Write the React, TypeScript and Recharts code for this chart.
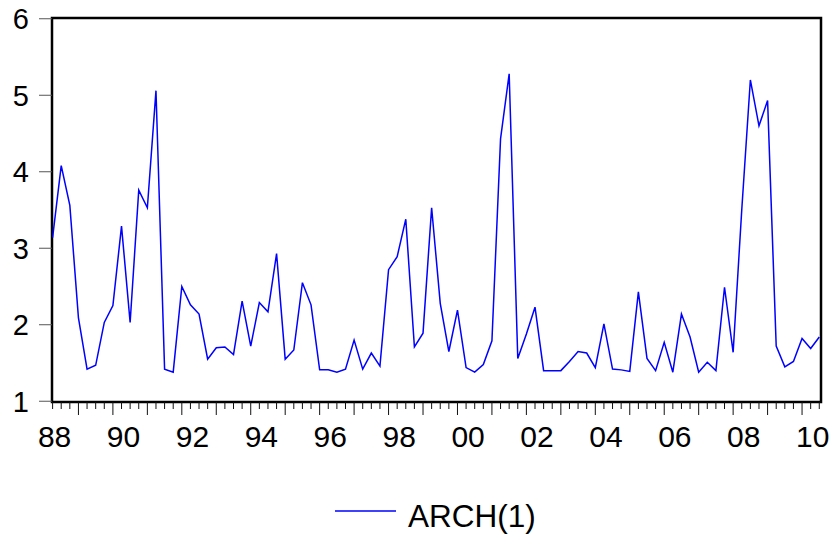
import { LineChart, Line, XAxis, YAxis, ReferenceArea } from 'recharts';

// Quarterly ARCH(1) conditional variance, 1988Q1 .. 2010Q2
const arch1 = [
  3.14, 4.08, 3.56, 2.09, 1.42, 1.47, 2.03, 2.25,
  3.29, 2.03, 3.76, 3.53, 5.06, 1.42, 1.38, 2.5,
  2.26, 2.14, 1.55, 1.7, 1.71, 1.61, 2.31, 1.72,
  2.29, 2.17, 2.93, 1.55, 1.67, 2.55, 2.26, 1.41,
  1.41, 1.38, 1.42, 1.8, 1.42, 1.63, 1.46, 2.72,
  2.89, 3.38, 1.71, 1.89, 3.53, 2.28, 1.65, 2.19,
  1.44, 1.38, 1.48, 1.79, 4.43, 5.28, 1.56, 1.88,
  2.23, 1.4, 1.4, 1.4, 1.52, 1.65, 1.63, 1.44,
  2.01, 1.42, 1.41, 1.39, 2.43, 1.56, 1.4, 1.77,
  1.38, 2.14, 1.84, 1.38, 1.51, 1.4, 2.49, 1.64,
  3.5, 5.2, 4.6, 4.93, 1.72, 1.45, 1.52, 1.82,
  1.69, 1.84,
];

// one label every second year, placed on that year's first quarter
const yearLabels = ['88', '90', '92', '94', '96', '98', '00', '02', '04', '06', '08', '10'];
const yTicks = [1, 2, 3, 4, 5, 6];

const data = arch1.map((v, i) => ({ q: i, arch: v }));
const quarterTicks = data.map((d) => d.q);

const FONT = '"Liberation Sans", Arial, sans-serif';
const X_DOMAIN: [number, number] = [-0.07, 89.2];
const Y_DOMAIN: [number, number] = [0.99, 6.01];

function QuarterTick({ x, y, payload }: { x: number; y: number; payload: { value: number } }) {
  const i = payload.value;
  const long = i % 4 === 3;
  const label = i % 8 === 0 ? yearLabels[i / 8] : null;
  return (
    <g>
      <line x1={x} x2={x} y1={y} y2={y + (long ? 13 : 7)} stroke="#111" strokeWidth={1} />
      {label && (
        <text x={x + 2} y={y + 45} textAnchor="middle" fontSize={30} fontFamily={FONT} fill="#000">
          {label}
        </text>
      )}
    </g>
  );
}

export default function App() {
  return (
    <div style={{ position: 'absolute', left: 0, top: 0, width: 834, height: 534, background: '#fff' }}>
      <LineChart width={834} height={534} data={data} margin={{ top: 18, right: 13, left: 0, bottom: 0 }}>
        <XAxis
          dataKey="q"
          type="number"
          domain={X_DOMAIN}
          ticks={quarterTicks}
          interval={0}
          axisLine={false}
          tickLine={false}
          tickSize={0}
          tickMargin={0}
          height={132}
          tick={QuarterTick as any}
          allowDataOverflow
        />
        <YAxis
          type="number"
          domain={Y_DOMAIN}
          ticks={yTicks}
          width={52}
          axisLine={false}
          tickSize={13}
          tickMargin={10}
          tickLine={{ stroke: '#555', strokeWidth: 1 }}
          tick={{ fontSize: 29, fontFamily: FONT, fill: '#000' }}
          allowDataOverflow
        />
        <Line
          type="linear"
          dataKey="arch"
          stroke="#0000ff"
          strokeWidth={1.5}
          dot={false}
          isAnimationActive={false}
        />
        <ReferenceArea
          x1={X_DOMAIN[0]}
          x2={X_DOMAIN[1]}
          y1={Y_DOMAIN[0]}
          y2={Y_DOMAIN[1]}
          fill="none"
          stroke="#000"
          strokeWidth={2.5}
          ifOverflow="visible"
        />
      </LineChart>
      <svg width={834} height={534} style={{ position: 'absolute', left: 0, top: 0, pointerEvents: 'none' }}>
        <line x1={335} x2={396} y1={511} y2={511} stroke="#0000ff" strokeWidth={1.5} />
        <text x={408} y={527} fontSize={31.5} fontFamily={FONT} fill="#000">
          ARCH(1)
        </text>
      </svg>
    </div>
  );
}
